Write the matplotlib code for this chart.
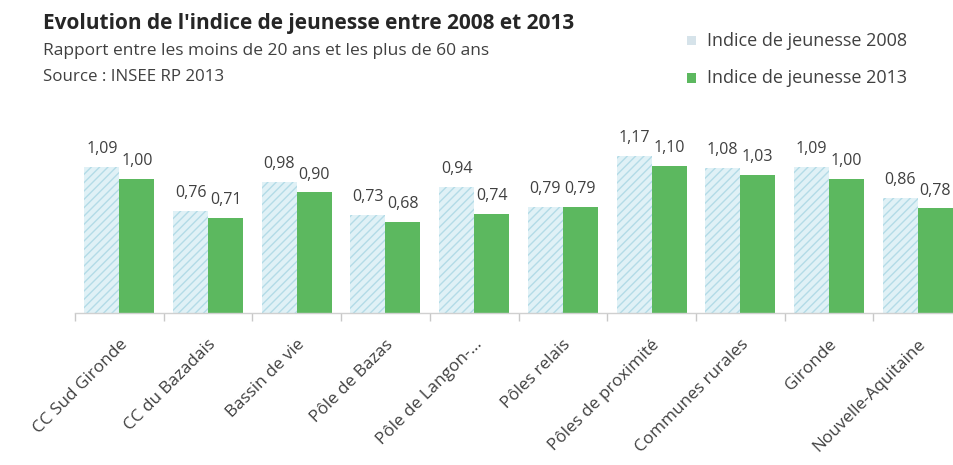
import matplotlib
matplotlib.use("Agg")
import matplotlib.pyplot as plt
import numpy as np

plt.rcParams['font.family'] = ['Open Sans', 'DejaVu Sans']
plt.rcParams['hatch.linewidth'] = 1.0

categories = ["CC Sud Gironde", "CC du Bazadais", "Bassin de vie", "Pôle de Bazas",
              "Pôle de Langon-...", "Pôles relais", "Pôles de proximité",
              "Communes rurales", "Gironde", "Nouvelle-Aquitaine"]
indice_2008 = [1.09, 0.76, 0.98, 0.73, 0.94, 0.79, 1.17, 1.08, 1.09, 0.86]
indice_2013 = [1.00, 0.71, 0.90, 0.68, 0.74, 0.79, 1.10, 1.03, 1.00, 0.78]

c2008_face = "#e0f1f6"
c2008_hatch = "#b3dbe7"
c2013 = "#5cb85f"
txt = "#404040"

W, H = 954, 465
fig = plt.figure(figsize=(W / 100, H / 100), dpi=100)
fig.patch.set_facecolor("white")

ax = fig.add_axes([75 / W, (H - 313) / H, 887 / W, 187.6 / H])
x = np.arange(len(categories))
bw = 0.395
b1 = ax.bar(x - bw / 2, indice_2008, bw, facecolor=c2008_face, edgecolor=c2008_hatch,
            hatch="////", linewidth=0)
b2 = ax.bar(x + bw / 2, indice_2013, bw, color=c2013, linewidth=0)

for bars, vals in ((b1, indice_2008), (b2, indice_2013)):
    for r, v in zip(bars, vals):
        ax.annotate(f"{v:.2f}".replace(".", ","),
                    (r.get_x() + r.get_width() / 2, v),
                    xytext=(0, 10), textcoords="offset points",
                    ha="center", va="baseline", fontsize=11.5, color=txt,
                    annotation_clip=False)

ax.set_xlim(-0.5, len(categories) - 0.5)
ax.set_ylim(0, 1.4)
ax.set_yticks([])
for s in ("left", "right", "top"):
    ax.spines[s].set_visible(False)
ax.spines["bottom"].set_color("#d0d0d0")
ax.spines["bottom"].set_linewidth(1.0)

ax.set_xticks(np.arange(len(categories) + 1) - 0.5)
ax.set_xticklabels([])
ax.tick_params(axis="x", which="major", length=6, color="#c8c8c8", width=1)
ax.set_xticks(x, minor=True)
ax.set_xticklabels(categories, minor=True, rotation=45, ha="right",
                   rotation_mode="anchor", fontsize=12.3, color=txt)
ax.tick_params(axis="x", which="minor", length=0, pad=17)

# titles
fig.text(43 / W, 1 - 24 / H, "Evolution de l'indice de jeunesse entre 2008 et 2013",
         fontsize=15, fontweight="bold", color="#262626", va="center", ha="left")
fig.text(43 / W, 1 - 51 / H, "Rapport entre les moins de 20 ans et les plus de 60 ans",
         fontsize=12.5, color=txt, va="center", ha="left")
fig.text(43 / W, 1 - 77 / H, "Source : INSEE RP 2013",
         fontsize=12.2, color=txt, va="center", ha="left")

# legend
for yy, fc, lab in ((41, "#d6e3ea", "Indice de jeunesse 2008"),
                    (78, c2013, "Indice de jeunesse 2013")):
    fig.patches.append(plt.Rectangle((687 / W, 1 - (yy + 4.5) / H), 9 / W, 9 / H,
                                     transform=fig.transFigure, facecolor=fc,
                                     edgecolor="none"))
    fig.text(707 / W, 1 - yy / H, lab, fontsize=13, color=txt, va="center", ha="left")

fig.savefig("out.png", dpi=100)
